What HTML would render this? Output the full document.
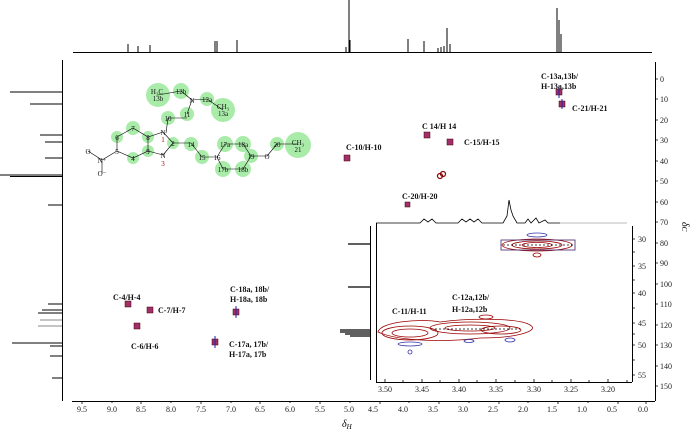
<!DOCTYPE html>
<html><head><style>
html,body{margin:0;padding:0;background:#fff;}
svg{display:block;font-family:"Liberation Serif",serif;}
.lb{font-size:8px;font-weight:bold;fill:#111;}
.ax{font-size:8px;fill:#222;}
.m{font-size:7px;fill:#111;}
</style></head><body>
<svg width="700" height="437" viewBox="0 0 700 437" xmlns="http://www.w3.org/2000/svg">
<rect width="700" height="437" fill="#fff"/>
<g stroke="#000" stroke-width="1" fill="none">
<line x1="73" y1="52.5" x2="652" y2="52.5"/>
<path d="M128 52V44M138 52V46M150 52V45M215 52V41M217 52V41M237 52V40M346 52V47M349 52V0M350 52V40M408 52V39M424 52V41M438 52V48M441 52V47M444 52V46M447 52V28M450 52V44M557 52V8M559 52V20M561 52V34"/>
</g>
<g stroke="#000" stroke-width="1" fill="none">
<line x1="62.5" y1="60" x2="62.5" y2="401"/>
<line x1="72" y1="401.5" x2="655" y2="401.5"/>
<line x1="655.5" y1="62" x2="655.5" y2="401"/>
</g>
<g stroke="#000" fill="none">
<path d="M62 92H10M62 104H30M62 135H40M62 142H45M62 158H45M62 175H0M62 176.5H10M62 205H48M62 304H48M62 310H42" stroke-width="1"/>
<path d="M62 320H40M62 326H38" stroke="#888"/>
<path d="M62 313H38M62 343H12M62 346H50M62 356H50M62 378H52" stroke-width="1"/>
</g>
<g stroke="#000" stroke-width="0.8">
<path d="M82 401v3M112 401v2M141 401v3M171 401v2M201 401v3M231 401v2M260 401v3M290 401v2M320 401v3M350 401v2M380 401v3M409 401v2M439 401v3M469 401v2M499 401v3M528 401v2M558 401v3M588 401v2M618 401v3M646 401v3"/>
</g>
<g class="ax" text-anchor="middle">
<text x="82" y="412">9.5</text><text x="112" y="412">9.0</text><text x="141" y="412">8.5</text><text x="171" y="412">8.0</text><text x="201" y="412">7.5</text><text x="231" y="412">7.0</text><text x="260" y="412">6.5</text><text x="290" y="412">6.0</text><text x="320" y="412">5.5</text><text x="349" y="412">5.0</text><text x="373" y="412">4.5</text><text x="403" y="412">4.0</text><text x="433" y="412">3.5</text><text x="463" y="412">3.0</text><text x="493" y="412">2.5</text><text x="523" y="412">2.0</text><text x="552" y="412">1.5</text><text x="582" y="412">1.0</text><text x="612" y="412">0.5</text><text x="643" y="412">0.0</text>
</g>
<text x="342" y="427" font-size="10" font-style="italic">δ<tspan font-size="7" dy="2">H</tspan></text>
<g stroke="#000" stroke-width="0.8">
<path d="M655 79h3M655 99h3M655 120h3M655 140h3M655 161h3M655 181h3M655 202h3M655 222h3M655 243h3M655 263h3M655 284h3M655 304h3M655 325h3M655 345h3M655 366h3M655 386h3"/>
</g>
<g class="ax">
<text x="660" y="82">0</text><text x="660" y="102">10</text><text x="660" y="123">20</text><text x="660" y="143">30</text><text x="660" y="164">40</text><text x="660" y="184">50</text><text x="660" y="205">60</text><text x="660" y="225">70</text><text x="660" y="246">80</text><text x="660" y="266">90</text><text x="660" y="287">100</text><text x="660" y="307">110</text><text x="660" y="328">120</text><text x="660" y="348">130</text><text x="660" y="369">140</text><text x="660" y="389">150</text>
</g>
<text x="682" y="222" font-size="10" font-style="italic" transform="rotate(90 682 222)">δ<tspan font-size="7">C</tspan></text>

<g fill="#9be89b" opacity="0.85">
<circle cx="158" cy="95" r="12"/><circle cx="181" cy="91" r="8"/><circle cx="207" cy="99" r="7"/><circle cx="223" cy="110" r="12"/>
<circle cx="187" cy="114" r="7"/><circle cx="168" cy="118" r="7"/><circle cx="133" cy="128" r="7"/><circle cx="117" cy="137" r="6"/>
<circle cx="148" cy="137" r="6"/><circle cx="173" cy="143" r="6"/><circle cx="191" cy="144" r="7"/><circle cx="148" cy="151" r="6"/>
<circle cx="133" cy="158" r="6"/><circle cx="202" cy="157" r="7"/><circle cx="225" cy="144" r="8"/><circle cx="243" cy="144" r="8"/>
<circle cx="251" cy="156" r="7"/><circle cx="223" cy="169" r="8"/><circle cx="243" cy="169" r="8"/><circle cx="277" cy="144" r="7"/><circle cx="298" cy="145" r="13"/>
</g>
<g stroke="#000" stroke-width="0.6" fill="none">
<path d="M117 137L133 128L148 137L163 132M117 137V151L133 158L148 151V137M148 151L163 155M163 132L173 143L163 155M166 133L168 118M173 143H191L202 157H217L225 144H243L251 156L243 169H223L217 157M251 156H267M267 156L277 144H298M187 114L192 100L181 91L158 95M192 100L207 99L223 110M168 118H187M117 151L102 160L88 151M102 160V173"/>
</g>
<g class="m" text-anchor="middle" font-size="6.5">
<text x="157" y="94">H₃C</text><text x="158" y="101">13b</text><text x="181" y="94">12b</text><text x="192" y="103">N</text><text x="207" y="102">12a</text><text x="223" y="109">CH₃</text><text x="223" y="116">13a</text>
<text x="187" y="117">11</text><text x="168" y="121">10</text><text x="163" y="135">N</text><text x="163" y="142" fill="#a00">1</text><text x="133" y="131">7</text><text x="117" y="140">6</text><text x="148" y="140">8</text><text x="173" y="146">2</text><text x="191" y="147">14</text>
<text x="117" y="154">5</text><text x="148" y="154">9</text><text x="163" y="158">N</text><text x="163" y="166" fill="#a00">3</text><text x="133" y="161">4</text><text x="202" y="160">15</text><text x="217" y="160">16</text><text x="225" y="147">17a</text><text x="243" y="147">18a</text><text x="251" y="159">19</text><text x="223" y="172">17b</text><text x="243" y="172">18b</text>
<text x="267" y="159">O</text><text x="277" y="147">20</text><text x="298" y="145">CH₃</text><text x="298" y="152">21</text><text x="88" y="154">O</text><text x="102" y="163">N⁺</text><text x="102" y="176">O⁻</text>
</g>

<g>
<g fill="#a0306a" stroke="#400" stroke-width="0.5">
<rect x="556" y="89" width="6" height="6"/><rect x="559" y="101" width="6" height="6"/><rect x="424" y="132" width="6" height="6"/><rect x="447" y="139" width="6" height="6"/><rect x="344" y="155" width="6" height="6"/>
<rect x="405" y="202" width="5" height="5"/><rect x="125" y="301" width="6" height="6"/><rect x="147" y="307" width="6" height="6"/><rect x="134" y="323" width="6" height="6"/><rect x="233" y="309" width="6" height="6"/><rect x="212" y="339" width="6" height="6"/>
</g>
<circle cx="440" cy="176" r="2.5" fill="none" stroke="#800" stroke-width="1.2"/><circle cx="443" cy="174" r="2.5" fill="none" stroke="#800" stroke-width="1.2"/>
<path d="M559 86v12M562 99v10M236 306v12M215 336v12" stroke="#22a" stroke-width="1"/>
</g>
<g class="lb">
<text x="541" y="79">C-13a,13b/</text><text x="541" y="89">H-13a,13b</text><text x="572" y="111">C-21/H-21</text>
<text x="422" y="129">C 14/H 14</text><text x="464" y="145">C-15/H-15</text><text x="346" y="150">C-10/H-10</text><text x="402" y="199">C-20/H-20</text>
<text x="113" y="300">C-4/H-4</text><text x="158" y="313">C-7/H-7</text><text x="131" y="349">C-6/H-6</text>
<text x="230" y="292">C-18a, 18b/</text><text x="230" y="302">H-18a, 18b</text><text x="229" y="347">C-17a, 17b/</text><text x="229" y="357">H-17a, 17b</text>
</g>

<g>
<rect x="372" y="223" width="261" height="160" fill="#fff"/>
<path d="M376 223H420L424 219L428 222L432 219L436 223H458L462 219L466 222L470 219L474 222L478 219L482 223H503L507 216L509 200L511 210L513 216L517 223H525L528 219L531 223L536 218L539 223L545 220L548 223H560" stroke="#000" fill="none" stroke-width="0.8"/>
<line x1="560" y1="223" x2="627" y2="223" stroke="#bbb"/>
<line x1="376.5" y1="223" x2="376.5" y2="382" stroke="#000"/>
<line x1="370.5" y1="226" x2="370.5" y2="380" stroke="#000" stroke-width="1"/>
<path d="M370 244H348M370 287H348M370 330H340M370 332H340M370 334H345M370 336H350" stroke="#000" stroke-width="1.2"/>
<line x1="632.5" y1="226" x2="632.5" y2="382" stroke="#000"/>
<line x1="376" y1="382.5" x2="632" y2="382.5" stroke="#000"/>
<g stroke="#000" stroke-width="0.8"><path d="M385 382v-3M403 382v-2M422 382v-3M440 382v-2M459 382v-3M477 382v-2M496 382v-3M515 382v-2M534 382v-3M552 382v-2M571 382v-3M589 382v-2M608 382v-3M627 382v-2M632 239h3M632 252h3M632 266h3M632 280h3M632 293h3M632 308h3M632 323h3M632 334h3M632 345h3M632 360h3M632 375h3"/></g>
<g class="ax" text-anchor="middle"><text x="385" y="392">3.50</text><text x="422" y="392">3.45</text><text x="459" y="392">3.40</text><text x="496" y="392">3.35</text><text x="534" y="392">3.30</text><text x="571" y="392">3.25</text><text x="608" y="392">3.20</text></g>
<g class="ax"><text x="638" y="242">30</text><text x="638" y="269">35</text><text x="638" y="296">40</text><text x="638" y="326">45</text><text x="638" y="348">50</text><text x="638" y="378">55</text></g>
<g fill="none" stroke-width="0.8">
<ellipse cx="537" cy="235" rx="10" ry="2" stroke="#33a"/>
<ellipse cx="537" cy="245" rx="35" ry="6" stroke="#900"/><ellipse cx="537" cy="245" rx="25" ry="4" stroke="#900"/><ellipse cx="537" cy="245" rx="15" ry="2.5" stroke="#900"/>
<ellipse cx="537" cy="255" rx="4" ry="2" stroke="#900"/>
<rect x="501" y="240" width="74" height="10" stroke="#426"/>
<line x1="503" y1="245" x2="573" y2="245" stroke="#000" stroke-dasharray="2,2"/>
<path d="M378 332C380 322 420 318 440 322C470 318 520 318 530 325C540 330 520 338 480 338C450 342 400 342 378 332Z" stroke="#900"/>
<ellipse cx="410" cy="333" rx="28" ry="7" stroke="#900"/><ellipse cx="410" cy="333" rx="18" ry="4" stroke="#900"/>
<ellipse cx="470" cy="328" rx="40" ry="6" stroke="#900"/><ellipse cx="470" cy="328" rx="25" ry="3" stroke="#900"/>
<ellipse cx="501" cy="330" rx="20" ry="4" stroke="#900"/>
<ellipse cx="410" cy="344" rx="12" ry="2" stroke="#33a"/><ellipse cx="410" cy="352" rx="2" ry="2" stroke="#33a"/>
<ellipse cx="469" cy="341" rx="5" ry="1.5" stroke="#33a"/><ellipse cx="510" cy="340" rx="5" ry="2" stroke="#33a"/>
<ellipse cx="486" cy="317" rx="7" ry="2" stroke="#900"/>
<line x1="435" y1="329" x2="520" y2="329" stroke="#000" stroke-dasharray="2,2"/>
</g>
<g class="lb"><text x="392" y="314">C-11/H-11</text><text x="452" y="300">C-12a,12b/</text><text x="452" y="312">H-12a,12b</text></g>
</g>
</svg>
</body></html>
